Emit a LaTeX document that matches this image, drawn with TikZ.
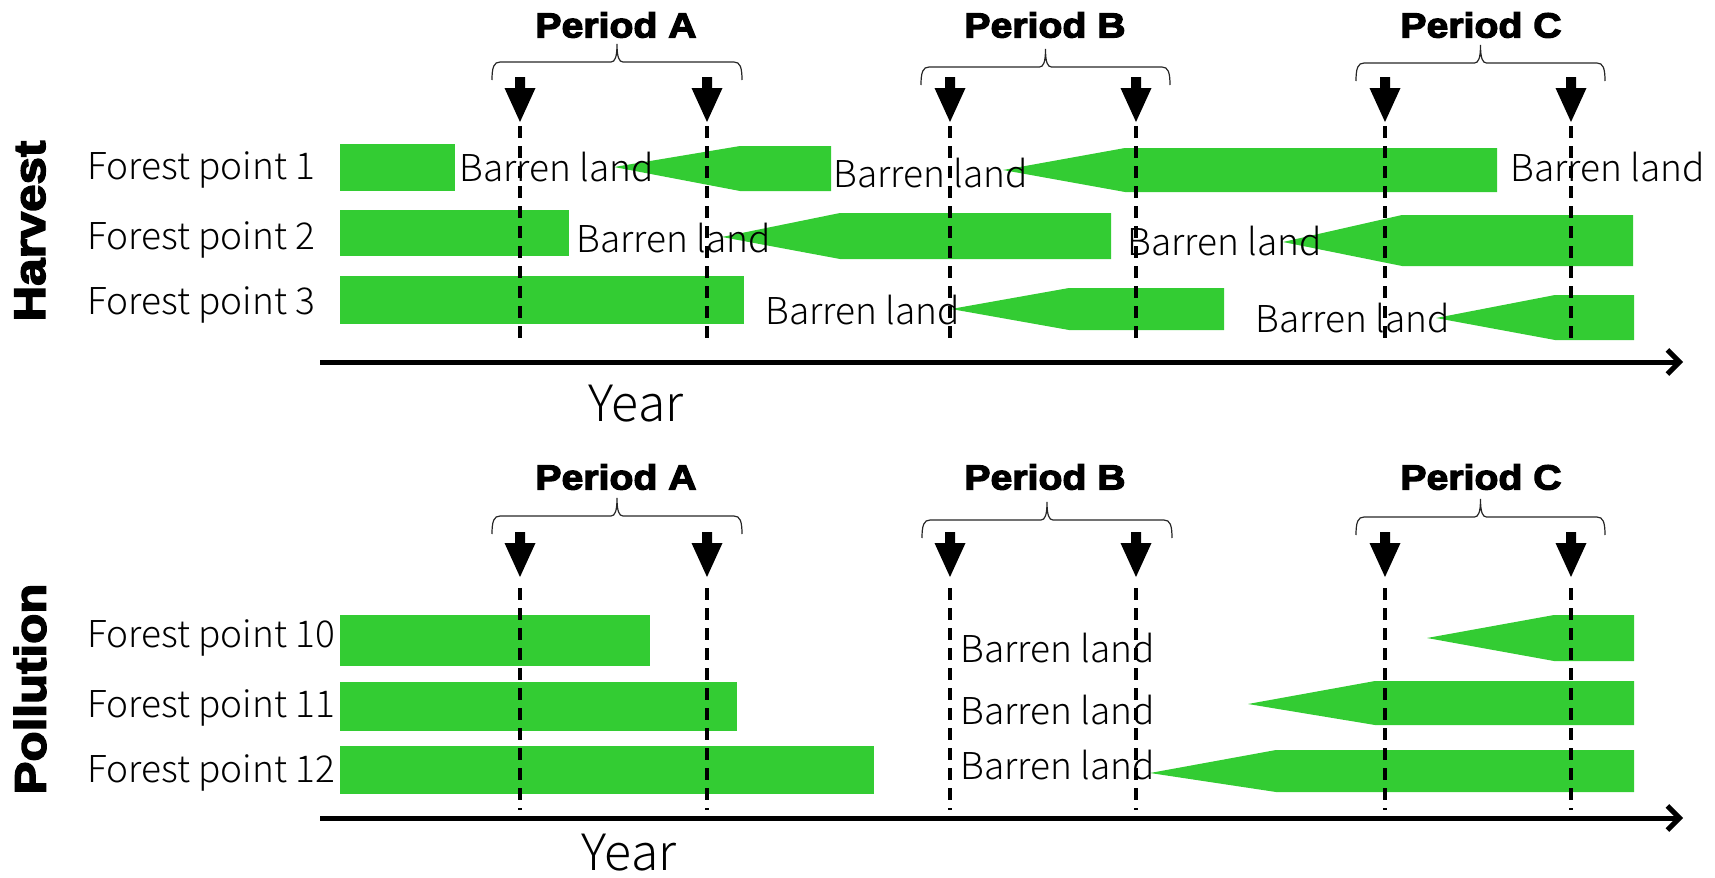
\documentclass[tikz,border=0pt]{standalone}
\usepackage{fontspec}
\setmainfont{Noto Sans CJK JP}[UprightFont=* Light]
\newfontfamily\heavyfont[FakeStretch=1.12,FakeBold=3.5]{Liberation Sans}
\usetikzlibrary{arrows.meta}
\definecolor{grn}{RGB}{51,204,51}
\tikzset{
  lbl/.style={font=\fontsize{18.5}{20}\selectfont, inner sep=0pt, anchor=west, yshift=-1.5pt},
  period/.style={font=\heavyfont\bfseries\fontsize{17.5}{19}\selectfont, inner sep=0pt},
  side/.style={font=\heavyfont\bfseries\fontsize{22}{24}\selectfont, inner sep=0pt, rotate=90},
  yearlbl/.style={font=\fontsize{25}{27}\selectfont, inner sep=0pt},
  greenfill/.style={fill=grn, draw=none},
  vdash/.style={line width=1.7pt, dash pattern=on 6pt off 4pt},
  axisline/.style={line width=2.5pt, -{Straight Barb[length=6pt,width=12pt,line width=2.5pt]}},
  bracepath/.style={line width=0.6pt, draw=black!85},
}
% brace: x1, x2, yline
\newcommand{\pbrace}[3]{%
  \draw[bracepath] (#1,{#3+18}) .. controls (#1,{#3+5}) and ({#1+2},#3) .. ({#1+8},#3)
    -- ({(#1+#2)/2-6},#3) .. controls ({(#1+#2)/2-2},#3) and ({(#1+#2)/2},{#3-5}) .. ({(#1+#2)/2},{#3-18})
    .. controls ({(#1+#2)/2},{#3-5}) and ({(#1+#2)/2+2},#3) .. ({(#1+#2)/2+6},#3)
    -- ({#2-8},#3) .. controls ({#2-2},#3) and (#2,{#3+5}) .. (#2,{#3+18});}
% down block arrow: x, stem top y
\newcommand{\darrow}[2]{%
  \fill[black] ({#1-5},#2) -- ({#1+5},#2) -- ({#1+5},{#2+11}) -- ({#1+15.5},{#2+11})
    -- (#1,{#2+45}) -- ({#1-15.5},{#2+11}) -- ({#1-5},{#2+11}) -- cycle;}
% green left-pointing shape: tipx, tipy, basex, top, bottom, endx
\newcommand{\garrow}[6]{%
  \fill[greenfill] (#1,#2) -- (#3,#4) -- (#6,#4) -- (#6,#5) -- (#3,#5) -- cycle;}
\begin{document}
\begin{tikzpicture}[x=0.5pt,y=-0.5pt]
\useasboundingbox (0,0) rectangle (1715,878);

% ===== Upper panel: Harvest =====
\node[side] (harvest) at (30,231) {Harvest};
\node[lbl] (fp1) at (87,167) {Forest point 1};
\node[lbl] (fp2) at (87,237) {Forest point 2};
\node[lbl] (fp3) at (87,302) {Forest point 3};

% green bars
\fill[greenfill] (340,144) rectangle (455,191);
\garrow{614}{167}{740}{146}{191}{831}
\garrow{1003}{170}{1125}{148}{192}{1497}
\fill[greenfill] (340,210) rectangle (569,256);
\garrow{722}{237}{840}{213}{259}{1111}
\garrow{1283}{242}{1402}{215}{266}{1633}
\fill[greenfill] (340,276) rectangle (744,324);
\garrow{951}{309}{1069}{288}{330}{1224}
\garrow{1436}{318}{1555}{295}{340}{1634}

% barren land labels
\node[lbl] (b1a) at (459,164) {Barren land};
\node[lbl] (b1b) at (833,170) {Barren land};
\node[lbl] (b1c) at (1510,164) {Barren land};
\node[lbl] (b2a) at (576,235) {Barren land};
\node[lbl] (b2b) at (1127,238) {Barren land};
\node[lbl] (b3a) at (765,307) {Barren land};
\node[lbl] (b3b) at (1255,315) {Barren land};

% periods
\node[period] (pAu) at (616,25) {Period A};
\node[period] (pBu) at (1045,25) {Period B};
\node[period] (pCu) at (1481,25) {Period C};
\pbrace{492}{742}{62}
\pbrace{921}{1170}{67}
\pbrace{1356}{1605}{63}

% arrows and dashed lines
\foreach \x in {520,707,950,1136,1385,1571}{
  \darrow{\x}{77}
  \draw[vdash] (\x,126) -- (\x,341);
}

% axis
\coordinate (axu0) at (320,362);
\coordinate (axu1) at (1683,362);
\draw[axisline] (axu0) -- (axu1);
\node[yearlbl] (yearu) at (636,404) {Year};

% ===== Lower panel: Pollution =====
\node[side] (pollution) at (30,689) {Pollution};
\node[lbl] (fp10) at (87,635) {Forest point 10};
\node[lbl] (fp11) at (87,705) {Forest point 11};
\node[lbl] (fp12) at (87,770) {Forest point 12};

\fill[greenfill] (340,615) rectangle (650,666);
\garrow{1427}{638}{1554}{615}{661}{1634}
\fill[greenfill] (340,682) rectangle (737,731);
\garrow{1248}{704}{1375}{681}{725}{1634}
\fill[greenfill] (340,746) rectangle (874,794);
\garrow{1150}{773}{1276}{750}{792}{1634}

\node[lbl] (b10) at (960,645) {Barren land};
\node[lbl] (b11) at (960,707) {Barren land};
\node[lbl] (b12) at (960,762) {Barren land};

\node[period] (pAl) at (616,477) {Period A};
\node[period] (pBl) at (1045,477) {Period B};
\node[period] (pCl) at (1481,477) {Period C};
\pbrace{492}{742}{516}
\pbrace{922}{1172}{520}
\pbrace{1356}{1605}{517}

\foreach \x in {520,707,950,1136,1385,1571}{
  \darrow{\x}{532}
  \draw[vdash] (\x,588) -- (\x,810);
}

\coordinate (axl0) at (320,818);
\coordinate (axl1) at (1683,818);
\draw[axisline] (axl0) -- (axl1);
\node[yearlbl] (yearl) at (629,853) {Year};
\end{tikzpicture}
\end{document}
